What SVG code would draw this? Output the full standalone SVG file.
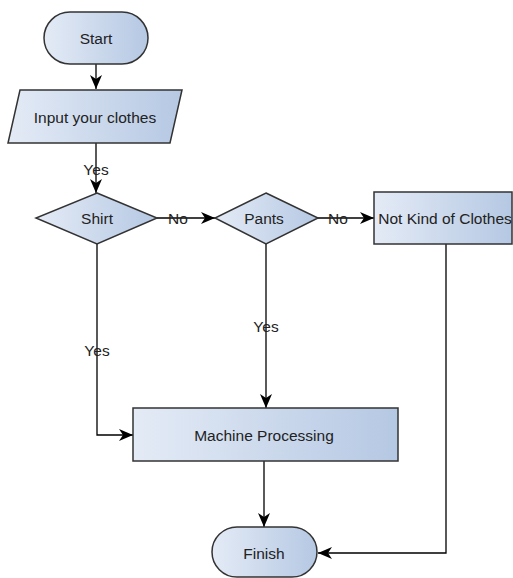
<svg xmlns="http://www.w3.org/2000/svg" width="513" height="578" viewBox="0 0 513 578">
<defs>
<linearGradient id="g" x1="0" y1="0" x2="1" y2="0">
<stop offset="0" stop-color="#e4ebf6"/>
<stop offset="1" stop-color="#b5c8e3"/>
</linearGradient>
<marker id="arr" viewBox="0 0 14 12" refX="14" refY="6" markerWidth="14" markerHeight="12" markerUnits="userSpaceOnUse" orient="auto">
<path d="M0,0 L14,6 L0,12 L4,6 Z" fill="#000"/>
</marker>
</defs>
<style>
.s{fill:url(#g);stroke:#333;stroke-width:1.5}
.t{font-family:"Liberation Sans",Arial,sans-serif;font-size:15.5px;fill:#222;text-anchor:middle;dominant-baseline:central}
.l{font-family:"Liberation Sans",Arial,sans-serif;font-size:15.5px;fill:#222;text-anchor:middle;dominant-baseline:central}
.c{fill:none;stroke:#000;stroke-width:1.3}
</style>
<g id="connectors">
<path class="c" d="M96,64 V89" marker-end="url(#arr)"/>
<path class="c" d="M96,143 V193" marker-end="url(#arr)"/>
<path class="c" d="M157,218 H215" marker-end="url(#arr)"/>
<path class="c" d="M318,218 H374" marker-end="url(#arr)"/>
<path class="c" d="M97,244 V435 H133" marker-end="url(#arr)"/>
<path class="c" d="M266,244 V408" marker-end="url(#arr)"/>
<path class="c" d="M446,244 V553 H318" marker-end="url(#arr)"/>
<path class="c" d="M264,461 V527" marker-end="url(#arr)"/>
<text class="l" x="96" y="169">Yes</text>
<text class="l" x="178" y="218">No</text>
<text class="l" x="338" y="218">No</text>
<text class="l" x="97" y="350">Yes</text>
<text class="l" x="266" y="326">Yes</text>
</g>
<g id="start">
<rect class="s" x="44" y="12" width="104" height="52" rx="26"/>
<text class="t" x="96" y="38">Start</text>
</g>
<g id="input">
<polygon class="s" points="20,90 182,90 170,143 8,143"/>
<text class="t" x="95" y="117">Input your clothes</text>
</g>
<g id="shirt">
<polygon class="s" points="97,193 157,218 97,244 36,218"/>
<text class="t" x="97" y="218">Shirt</text>
</g>
<g id="pants">
<polygon class="s" points="266,193 318,218 266,244 215,218"/>
<text class="t" x="264" y="218">Pants</text>
</g>
<g id="notkind">
<rect class="s" x="374" y="192" width="138" height="52"/>
<text class="t" x="445" y="218">Not Kind of Clothes</text>
</g>
<g id="machine">
<rect class="s" x="133" y="408" width="265" height="53"/>
<text class="t" x="264" y="435">Machine Processing</text>
</g>
<g id="finish">
<rect class="s" x="212" y="527" width="105" height="50" rx="25"/>
<text class="t" x="264" y="553">Finish</text>
</g>
</svg>
